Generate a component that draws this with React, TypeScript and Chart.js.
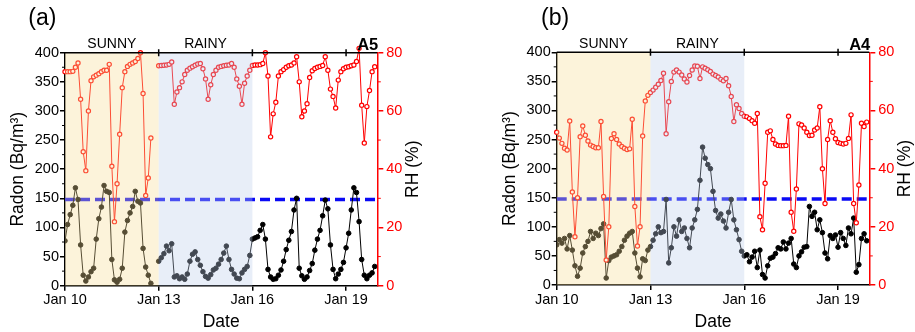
import React, { useEffect, useRef } from 'react';
import { Chart, registerables } from 'chart.js';

Chart.register(...registerables);

// ---------------- data ----------------
const START_DAY = 10; // Jan 10
const STEP_DAYS = 2 / 24; // one reading every 2 hours
const X_MIN = 10;
const X_MAX = 20;
const X_TICKS = [10, 13, 16, 19];
const X_TICK_LABELS = ['Jan 10', 'Jan 13', 'Jan 16', 'Jan 19'];
const THRESHOLD = 148;
const PERIOD_LABELS = ['SUNNY', 'RAINY'];
const PERIOD_START = [10, 13];
const PERIOD_END = [13, 16];

// Panel (a) – site A5
const A_RADON = [
  77, 105, 122, 138, 168, 148, 70, 18, 8, 15, 24, 30,
  80, 115, 135, 172, 162, 160, 45, 10, 6, 11, 30, 92,
  112, 125, 136, 162, 145, 142, 64, 32, 18, 4, null, null,
  42, 48, 55, 68, 60, 72, 15, 17, 12, 15, 11, 20,
  42, 54, 58, 45, 35, 24, 16, 13, 19, 27, 30, 37,
  45, 56, 68, 45, 28, 20, 13, 12, 22, 28, 33, 52,
  80, 82, 84, 95, 105, 80, 28, 15, 11, 12, 18, 27,
  42, 62, 78, 93, 130, 150, 30, 17, 11, 15, 26, 38,
  61, 80, 95, 120, 147, 132, 70, 28, 12, 20, 28, 40,
  65, 90, 130, 168, 160, 110, 45, 18, 12, 18, 22, 33,
];
const A_RH = [
  73.5, 73.5, 73.5, 73.6, 75, 76.5, 64, 46, 39.5, 60, 70.4, 71.7,
  72.3, 72.8, 73.5, 74, 74, 76, 41, 22, 35, 52, 68, 73.5,
  75.3, 76, 76.5, 77, 78, 80, 66, 31, 37, 50.7, null, null,
  75.5, 75.6, 75.7, 75.8, 76, 76.8, 62.3, 66.5, 68, 70, 72.5, 74,
  74.7, 75.2, 75.7, 76.1, 76.3, 74.5, 71, 64, 69, 72.5, 74, 75,
  75.3, 75.5, 75.7, 75.8, 76.3, 75, 71, 68.5, 62.3, 69.5, 72, 74,
  75.6, 75.8, 75.8, 75.9, 76.3, 80, 72, 51.1, 59, 63, 72, 73.5,
  74.2, 75, 75.5, 75.8, 76.5, 78.6, 70, 58, 60, 62.5, 71.5, 73.8,
  74.6, 75, 75.3, 75.6, 78.6, 74, 67.5, 65, 61, 70.6, 73.5, 74.5,
  75, 75.2, 75.5, 75.8, 77, 81.5, 62, 49, 61.5, 67, 73.5, 75.2,
];

// Panel (b) – site A4
const B_RADON = [
  69, 78, 72, 80, 62, 85, 60, 33, 15, 29, 55, 66,
  75, 92, 80, 89, 85, 97, 105, 12, 42, 48, 50, 52,
  58, 66, 77, 84, 89, 92, 55, 29, 14, 45, 42, 60,
  66, 77, 88, 100, 90, 92, 147, 38, 64, 100, 84, 112,
  92, 98, 80, 64, 98, 112, 130, 180, 237, 218, 207, 200,
  161, 128, 115, 122, 110, 98, 125, 147, 112, 95, 78, 58,
  50, 52, 40, 48, 58, 30, 60, 18, 12, 33, 46, 48,
  54, 64, 62, 74, 62, 72, 80, 36, 30, 50, 57, 65,
  66, 135, 118, 125, 95, 112, 90, 55, 45, 85, 80, 86,
  65, 90, 80, 68, 98, 88, 115, 22, 35, 80, 88, 76,
];
const B_RH = [
  52.5, 50.5, 48.7, 47, 46.4, 56.4, 32, 16.6, 30, 51, 54.7, 51.5,
  49.5, 48.1, 47.6, 47.2, 47.2, 56.2, 30.4, 8.6, 20, 50.4, 52, 50,
  48.5, 47.6, 47, 46.6, 46.8, 57, 27, 13.4, 20, 51.2, 63.3, 65.2,
  66.2, 67, 68, 69, 70.3, 72.8, 52, 63, 70, 73.2, 73.9, 73.2,
  72.2, 70.8, 69.8, 72, 73.9, 75.3, 75.2, 71, 75, 74.5, 74, 73.4,
  72.5, 72, 71.5, 70.7, 70.2, 71, 68.5, 64.8, 56.2, 62, 60.7, 59,
  58, 57.8, 57.2, 56.5, 55.6, 59, 23.5, 19, 35, 52.5, 53, 50,
  48.5, 48, 47.9, 47.9, 48, 58, 25, 18.5, 33, 55.4, 55, 54,
  52.5, 51.4, 51.5, 53.3, 54, 61.3, 40, 28, 50, 56.5, 52.5, 50.3,
  49, 48.7, 48.5, 48.7, 50.4, 58.5, 28, 21.4, 34.4, 55.6, 54.5, 56,
];

// ---------------- layout / style ----------------
const W = 915;
const H = 332;
const FONT = '"Liberation Sans", Arial, sans-serif';
const PERIOD_FILL = ['rgba(245,220,150,0.35)', 'rgba(189,206,235,0.35)'];

type PanelCfg = {
  tag: string;
  site: string;
  radon: (number | null)[];
  rh: (number | null)[];
  left: number;
  right: number;
  top: number;
  bottom: number;
  tagX: number;
};

const PANELS: PanelCfg[] = [
  { tag: '(a)', site: 'A5', radon: A_RADON, rh: A_RH, left: 65, right: 377.3, top: 52.7, bottom: 285.7, tagX: 28.3 },
  { tag: '(b)', site: 'A4', radon: B_RADON, rh: B_RH, left: 556.7, right: 869.3, top: 52.3, bottom: 285, tagX: 541 },
];

const toPoints = (vals: (number | null)[]) =>
  vals.map((v, i) => ({ x: START_DAY + i * STEP_DAYS, y: v }));

function makeOverlay(cfg: PanelCfg) {
  return {
    id: 'overlay-' + cfg.site,
    afterDraw(chart: any) {
      const { ctx, chartArea } = chart;
      const { left, right, top, bottom } = chartArea;
      const x = chart.scales.x;
      const y = chart.scales.y;
      const y1 = chart.scales.y1;
      ctx.save();
      // shaded periods (drawn over the data, like the original)
      PERIOD_LABELS.forEach((_, k) => {
        const x0 = x.getPixelForValue(PERIOD_START[k]);
        const x1 = x.getPixelForValue(PERIOD_END[k]);
        ctx.fillStyle = PERIOD_FILL[k];
        ctx.fillRect(x0, top, x1 - x0, bottom - top);
      });
      // top frame line with crossing ticks
      ctx.strokeStyle = '#000';
      ctx.lineWidth = 1.5;
      ctx.beginPath();
      ctx.moveTo(left, top);
      ctx.lineTo(right, top);
      X_TICKS.forEach((v) => {
        if (v === X_MIN) return;
        const px = x.getPixelForValue(v);
        ctx.moveTo(px, top - 3.5);
        ctx.lineTo(px, top + 3.5);
      });
      ctx.stroke();
      // minor ticks on left axis
      ctx.lineWidth = 1;
      ctx.beginPath();
      for (let v = 25; v < 400; v += 50) {
        const py = y.getPixelForValue(v);
        ctx.moveTo(left - 3, py);
        ctx.lineTo(left, py);
      }
      ctx.stroke();
      // minor ticks on right axis
      ctx.strokeStyle = '#ff0000';
      ctx.beginPath();
      for (let v = 10; v < 80; v += 20) {
        const py = y1.getPixelForValue(v);
        ctx.moveTo(right, py);
        ctx.lineTo(right + 3.5, py);
      }
      ctx.stroke();

      // period labels
      ctx.fillStyle = '#000';
      ctx.font = `14px ${FONT}`;
      ctx.textAlign = 'center';
      ctx.textBaseline = 'alphabetic';
      PERIOD_LABELS.forEach((lab, k) => {
        const cx = (x.getPixelForValue(PERIOD_START[k]) + x.getPixelForValue(PERIOD_END[k])) / 2;
        ctx.fillText(lab, cx, top - 4.4);
      });
      // site label
      ctx.font = `bold 16.5px ${FONT}`;
      ctx.textAlign = 'right';
      ctx.fillText(cfg.site, right + 1, top - 2.7);
      // panel tag
      ctx.font = `23px ${FONT}`;
      ctx.textAlign = 'left';
      ctx.fillText(cfg.tag, cfg.tagX, 24.5);
      // Date title
      ctx.font = `17.5px ${FONT}`;
      ctx.textAlign = 'center';
      ctx.fillText('Date', (left + right) / 2, 326.5);
      // Radon title
      const midY = (top + bottom) / 2;
      ctx.save();
      ctx.translate(left - 46.7, midY);
      ctx.rotate(-Math.PI / 2);
      ctx.textBaseline = 'middle';
      ctx.font = `17.5px ${FONT}`;
      ctx.fillText('Radon (Bq/m³)', 0, 0);
      ctx.restore();
      // RH title
      ctx.save();
      ctx.translate(right + 36, midY);
      ctx.rotate(-Math.PI / 2);
      ctx.textBaseline = 'middle';
      ctx.font = `17.5px ${FONT}`;
      ctx.fillStyle = '#000';
      ctx.fillText('RH (%)', 0, 0);
      ctx.restore();
      ctx.restore();
    },
  };
}

function PanelChart({ cfg }: { cfg: PanelCfg }) {
  const ref = useRef<HTMLCanvasElement | null>(null);
  useEffect(() => {
    if (!ref.current) return;
    const leftAxisW = 65;
    const padLeft = cfg.left - leftAxisW;
    const rightSpace = W - cfg.right;
    const rightAxisW = Math.min(80, rightSpace);
    const padRight = rightSpace - rightAxisW;
    const chart = new Chart(ref.current, {
      type: 'line',
      data: {
        datasets: [
          {
            label: 'RH',
            data: toPoints(cfg.rh),
            yAxisID: 'y1',
            borderColor: '#ff0000',
            borderWidth: 1,
            pointRadius: 2.1,
            pointBorderWidth: 1.2,
            pointBorderColor: '#ff0000',
            pointBackgroundColor: '#ffffff',
            clip: false as any,
            order: 1,
          },
          {
            label: 'Radon',
            data: toPoints(cfg.radon),
            yAxisID: 'y',
            borderColor: '#000000',
            borderWidth: 1,
            pointRadius: 2.3,
            pointBorderWidth: 1,
            pointBorderColor: '#000000',
            pointBackgroundColor: '#000000',
            order: 2,
          },
          {
            label: 'threshold',
            data: [
              { x: X_MIN, y: THRESHOLD },
              { x: X_MAX, y: THRESHOLD },
            ],
            yAxisID: 'y',
            borderColor: '#0a0af5',
            borderWidth: 3.5,
            borderDash: [10, 5],
            pointRadius: 0,
            order: 3,
          },
        ],
      },
      options: {
        responsive: false,
        animation: false,
        events: [],
        layout: { padding: { left: padLeft, right: padRight, top: cfg.top, bottom: 0 } },
        plugins: { legend: { display: false }, tooltip: { enabled: false } },
        scales: {
          x: {
            type: 'linear',
            min: X_MIN,
            max: X_MAX,
            afterFit: (s: any) => {
              s.height = H - cfg.bottom;
            },
            afterBuildTicks: (s: any) => {
              s.ticks = X_TICKS.map((v) => ({ value: v }));
            },
            ticks: {
              autoSkip: false,
              maxRotation: 0,
              padding: 1,
              color: '#000',
              font: { family: FONT, size: 14.5 },
              callback: (v: any) => X_TICK_LABELS[X_TICKS.indexOf(Number(v))] ?? '',
            },
            grid: { drawOnChartArea: false, color: '#000', lineWidth: 1.5, tickLength: 5 },
            border: { display: true, color: '#000', width: 1.5 },
          },
          y: {
            type: 'linear',
            position: 'left',
            min: 0,
            max: 400,
            afterFit: (s: any) => {
              s.width = leftAxisW;
            },
            ticks: {
              stepSize: 50,
              padding: 1,
              color: '#000',
              font: { family: FONT, size: 14.5 },
            },
            grid: { drawOnChartArea: false, color: '#000', lineWidth: 1.5, tickLength: 5 },
            border: { display: true, color: '#000', width: 1.5 },
          },
          y1: {
            type: 'linear',
            position: 'right',
            min: 0,
            max: 80,
            afterFit: (s: any) => {
              s.width = rightAxisW;
            },
            ticks: {
              stepSize: 20,
              padding: 3,
              color: '#ff0000',
              font: { family: FONT, size: 14.5 },
            },
            grid: { drawOnChartArea: false, color: '#ff0000', lineWidth: 1.5, tickLength: 6 },
            border: { display: true, color: '#ff0000', width: 1.5 },
          },
        },
      } as any,
      plugins: [makeOverlay(cfg)],
    });
    return () => chart.destroy();
  }, [cfg]);
  return (
    <canvas
      ref={ref}
      width={W}
      height={H}
      style={{ position: 'absolute', left: 0, top: 0, width: W, height: H }}
    />
  );
}

export default function App() {
  return (
    <div
      style={{
        position: 'absolute',
        left: 0,
        top: 0,
        width: W,
        height: H,
        background: '#fff',
        overflow: 'hidden',
      }}
    >
      {PANELS.map((p) => (
        <PanelChart key={p.site} cfg={p} />
      ))}
    </div>
  );
}
